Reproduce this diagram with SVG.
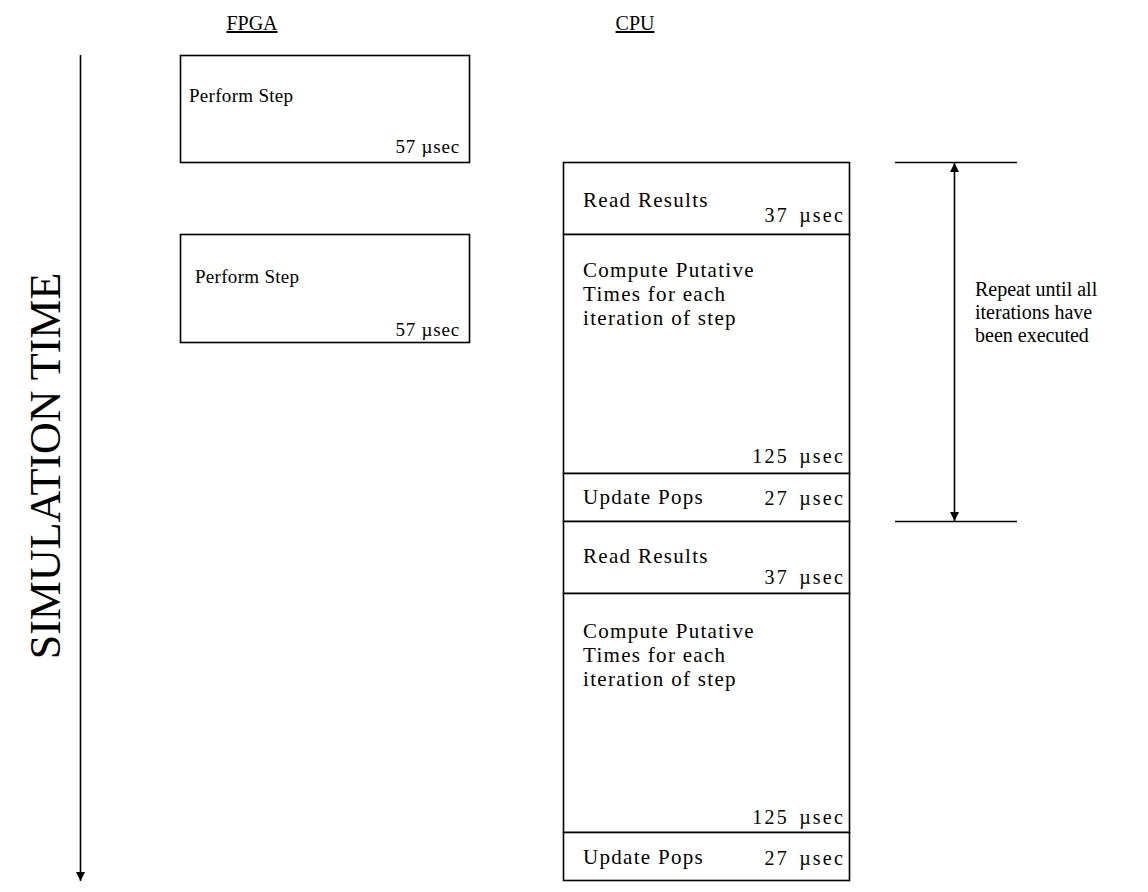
<svg xmlns="http://www.w3.org/2000/svg" width="1148" height="892" viewBox="0 0 1148 892">
  <style>
    text { font-family: "Liberation Serif", "Times New Roman", serif; fill: #000; }
    .f { font-size: 19px; letter-spacing: 0.3px; }
    .fr { font-size: 19px; letter-spacing: 0.8px; text-anchor: end; }
    .t { font-size: 21px; letter-spacing: 1.3px; }
    .r { font-size: 20px; letter-spacing: 2.2px; word-spacing: 3px; text-anchor: end; }
    .n { font-size: 20px; }
    .h { font-size: 20px; text-anchor: middle; text-decoration: underline; }
    .box { fill: #fff; stroke: #000; stroke-width: 1.6; }
    .ln { stroke: #000; stroke-width: 1.6; fill: none; }
  </style>
  <defs>
    <marker id="ah" viewBox="0 0 10 10" refX="10" refY="5" markerWidth="10" markerHeight="9" markerUnits="userSpaceOnUse" orient="auto-start-reverse">
      <path d="M0,0 L10,5 L0,10 z" fill="#000"/>
    </marker>
  </defs>
  <rect width="1148" height="892" fill="#fff"/>

  <!-- column headings -->
  <g id="head-fpga"><text class="h" x="252" y="30">FPGA</text></g>
  <g id="head-cpu"><text class="h" x="635" y="30">CPU</text></g>

  <!-- time axis label -->
  <g id="time-axis">
    <text x="0" y="0" font-size="44" text-anchor="middle" transform="translate(60,466) rotate(-90)">SIMULATION TIME</text>
  </g>

  <!-- FPGA steps -->
  <g id="fpga-step-1">
    <rect class="box" x="180.5" y="55.5" width="289" height="107"/>
    <text class="f" x="189" y="102">Perform Step</text>
    <text class="fr" x="460" y="153">57 µsec</text>
  </g>
  <g id="fpga-step-2">
    <rect class="box" x="180.5" y="234.5" width="289" height="108"/>
    <text class="f" x="195" y="283">Perform Step</text>
    <text class="fr" x="460" y="336">57 µsec</text>
  </g>

  <!-- CPU stack -->
  <g id="cpu-read-1">
    <rect class="box" x="563.5" y="162.5" width="286" height="72"/>
    <text class="t" x="583" y="207">Read Results</text>
    <text class="r" x="845" y="222">37 µsec</text>
  </g>
  <g id="cpu-compute-1">
    <rect class="box" x="563.5" y="234.5" width="286" height="239"/>
    <text class="t" x="583" y="277">Compute Putative</text>
    <text class="t" x="583" y="301">Times for each</text>
    <text class="t" x="583" y="325">iteration of step</text>
    <text class="r" x="845" y="463">125 µsec</text>
  </g>
  <g id="cpu-update-1">
    <rect class="box" x="563.5" y="473.5" width="286" height="48"/>
    <text class="t" x="583" y="504">Update Pops</text>
    <text class="r" x="845" y="505">27 µsec</text>
  </g>
  <g id="cpu-read-2">
    <rect class="box" x="563.5" y="521.5" width="286" height="72"/>
    <text class="t" x="583" y="563">Read Results</text>
    <text class="r" x="845" y="584">37 µsec</text>
  </g>
  <g id="cpu-compute-2">
    <rect class="box" x="563.5" y="593.5" width="286" height="239"/>
    <text class="t" x="583" y="638">Compute Putative</text>
    <text class="t" x="583" y="662">Times for each</text>
    <text class="t" x="583" y="686">iteration of step</text>
    <text class="r" x="845" y="824">125 µsec</text>
  </g>
  <g id="cpu-update-2">
    <rect class="box" x="563.5" y="832.5" width="286" height="48"/>
    <text class="t" x="583" y="864">Update Pops</text>
    <text class="r" x="845" y="865">27 µsec</text>
  </g>

  <!-- repeat note -->
  <g id="repeat-note">
    <text class="n" x="975" y="296">Repeat until all</text>
    <text class="n" x="975" y="319">iterations have</text>
    <text class="n" x="975" y="342">been executed</text>
  </g>

  <!-- connectors -->
  <g id="connectors">
    <line class="ln" x1="80.5" y1="55" x2="80.5" y2="881" marker-end="url(#ah)"/>
    <line class="ln" x1="895" y1="162.5" x2="1017" y2="162.5"/>
    <line class="ln" x1="895" y1="521.5" x2="1017" y2="521.5"/>
    <line class="ln" x1="954.5" y1="163" x2="954.5" y2="521" marker-start="url(#ah)" marker-end="url(#ah)"/>
  </g>
</svg>
